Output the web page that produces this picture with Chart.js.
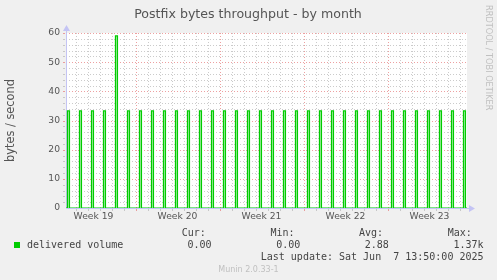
<!DOCTYPE html>
<html>
<head>
<meta charset="utf-8">
<script src="https://cdn.jsdelivr.net/npm/chart.js@4/dist/chart.umd.min.js"></script>
<style>
html, body { margin: 0; padding: 0; background: #f0f0f0; overflow: hidden; }
canvas { display: block; }
</style>
</head>
<body>
<canvas id="grafico" width="497" height="280"></canvas>
<script>
const chartTitle = "Postfix bytes throughput - by month";
const yAxisTitle = "bytes / second";
const watermark = "RRDTOOL / TOBI OETIKER";
const footer = "Munin 2.0.33-1";

// x axis in days, counted from the Monday that starts week 19
const xMin = 1.208;
const xMax = 34.625;
const weekLabels = ["Week 19", "Week 20", "Week 21", "Week 22", "Week 23"];
const weekCenters = [3.5, 10.5, 17.5, 24.5, 31.5];
const yTicks = [0, 10, 20, 30, 40, 50, 60];

// one spike a day (delivered volume, bytes/s)
const spikeDays = [1.33, 2.33, 3.33, 4.33, 5.33, 6.33, 7.33, 8.33, 9.33, 10.33,
                   11.33, 12.33, 13.33, 14.33, 15.33, 16.33, 17.33, 18.33, 19.33, 20.33,
                   21.33, 22.33, 23.33, 24.33, 25.33, 26.33, 27.33, 28.33, 29.33, 30.33,
                   31.33, 32.33, 33.33, 34.33];
const spikeValues = [33.3, 33.3, 33.3, 33.3, 59.0, 33.3, 33.3, 33.3, 33.3, 33.3,
                     33.3, 33.3, 33.3, 33.3, 33.3, 33.3, 33.3, 33.3, 33.3, 33.3,
                     33.3, 33.3, 33.3, 33.3, 33.3, 33.3, 33.3, 33.3, 33.3, 33.3,
                     33.3, 33.3, 33.3, 33.3];

const seriesName = "delivered volume";
const statHeads = ["Cur:", "Min:", "Avg:", "Max:"];
const statValues = ["0.00", "0.00", "2.88", "1.37k"];
const lastUpdate = "Last update: Sat Jun  7 13:50:00 2025";

const verde = "#00cc00";
const spikeWidth = 0.167; // dias (~2px)

// monta os pontos da área a partir dos arrays
const pontos = [{ x: xMin, y: 0 }];
spikeDays.forEach((d, i) => {
    pontos.push({ x: d, y: 0 }, { x: d, y: spikeValues[i] },
                { x: d + spikeWidth, y: spikeValues[i] }, { x: d + spikeWidth, y: 0 });
});
pontos.push({ x: xMax, y: 0 });

const px = v => Math.round(v) + 0.5;
const corMenor = "rgba(185,185,185,0.75)";
const corMaior = "rgba(230,120,120,0.7)";

const muninPlugin = {
    id: "munin",
    beforeDraw(chart) {
        const { ctx, chartArea: a } = chart;
        ctx.save();
        ctx.fillStyle = "#f0f0f0";
        ctx.fillRect(0, 0, chart.width, chart.height);
        ctx.fillStyle = "#ffffff";
        ctx.fillRect(a.left, a.top, a.right - a.left, a.bottom - a.top);
        ctx.restore();
    },
    beforeDatasetsDraw(chart) { // grade pontilhada
        const { ctx, chartArea: a, scales: { x, y } } = chart;
        ctx.save();
        ctx.lineWidth = 1;
        for (let d = Math.ceil(xMin); d <= xMax; d++) {
            const xp = px(x.getPixelForValue(d));
            ctx.strokeStyle = d % 7 === 0 ? corMaior : corMenor;
            ctx.setLineDash([1, 2]);
            ctx.beginPath(); ctx.moveTo(xp, a.top); ctx.lineTo(xp, a.bottom); ctx.stroke();
            ctx.setLineDash([]); // marca abaixo do eixo
            ctx.beginPath(); ctx.moveTo(xp, a.bottom + 1); ctx.lineTo(xp, a.bottom + 3); ctx.stroke();
        }
        for (let v = 2; v <= 60; v += 2) {
            const yp = px(y.getPixelForValue(v));
            ctx.strokeStyle = v % 10 === 0 ? corMaior : corMenor;
            ctx.setLineDash([1, 2]);
            ctx.beginPath(); ctx.moveTo(a.left, yp); ctx.lineTo(a.right, yp); ctx.stroke();
            ctx.setLineDash([]);
            ctx.beginPath(); ctx.moveTo(a.left - 3, yp); ctx.lineTo(a.left - 1, yp); ctx.stroke();
        }
        // eixos
        const ax = "#c4c4f4";
        ctx.strokeStyle = ax;
        ctx.fillStyle = ax;
        const x0 = px(a.left - 0.5), y0 = px(a.bottom - 0.5);
        ctx.beginPath(); ctx.moveTo(x0, y0); ctx.lineTo(x0, a.top - 4); ctx.stroke();
        ctx.beginPath(); ctx.moveTo(x0 - 3.5, a.top - 2); ctx.lineTo(x0, a.top - 8); ctx.lineTo(x0 + 3.5, a.top - 2); ctx.fill();
        ctx.beginPath(); ctx.moveTo(x0, y0); ctx.lineTo(a.right + 4, y0); ctx.stroke();
        ctx.beginPath(); ctx.moveTo(a.right + 2, y0 - 3.5); ctx.lineTo(a.right + 8, y0); ctx.lineTo(a.right + 2, y0 + 3.5); ctx.fill();
        ctx.restore();
    },
    afterDraw(chart) { // título, legenda e rodapé
        const ctx = chart.ctx;
        ctx.save();
        ctx.fillStyle = "#555555";
        ctx.font = "12.6px 'DejaVu Sans'";
        ctx.textAlign = "center";
        ctx.textBaseline = "alphabetic";
        ctx.fillText(chartTitle, 248, 17.5);

        ctx.save();
        ctx.translate(488, 5);
        ctx.rotate(Math.PI / 2);
        ctx.fillStyle = "#c0c0c0";
        ctx.font = "8.2px 'DejaVu Sans'";
        ctx.textAlign = "left";
        ctx.textBaseline = "middle";
        ctx.fillText(watermark, 0, 0);
        ctx.restore();

        ctx.fillStyle = verde;
        ctx.fillRect(14, 242, 6, 6);

        ctx.fillStyle = "#444444";
        ctx.font = "10px 'DejaVu Sans Mono'";
        ctx.textAlign = "left";
        ctx.textBaseline = "middle";
        ctx.fillText(seriesName, 27, 245.5);
        const colHead = [181.7, 270.4, 359, 447.7];
        statHeads.forEach((t, i) => {
            ctx.fillText(t, colHead[i], 233.5);
            ctx.fillText(statValues[i], colHead[i] + 5.8, 245.5);
        });
        ctx.textAlign = "right";
        ctx.fillText(lastUpdate, 483.5, 257.5);

        ctx.fillStyle = "#c0c0c0";
        ctx.font = "8px 'DejaVu Sans'";
        ctx.textAlign = "center";
        ctx.fillText(footer, 248.5, 269.8);
        ctx.restore();
    }
};

new Chart(document.getElementById("grafico").getContext("2d"), {
    type: "line",
    data: {
        datasets: [{
            label: seriesName,
            data: pontos,
            borderColor: verde,
            borderWidth: 1.2,
            backgroundColor: "rgba(60,215,60,0.45)",
            fill: "origin",
            pointRadius: 0,
            tension: 0
        }]
    },
    options: {
        responsive: false,
        animation: false,
        devicePixelRatio: 1,
        layout: { padding: { top: 33, right: 30, bottom: 52, left: 0 } },
        plugins: { legend: { display: false }, title: { display: false }, tooltip: { enabled: false } },
        scales: {
            x: {
                type: "linear",
                min: xMin,
                max: xMax,
                afterBuildTicks: s => { s.ticks = weekCenters.map(v => ({ value: v })); },
                afterFit: s => { s.height = 20; },
                grid: { display: false, drawTicks: false },
                border: { display: false },
                ticks: {
                    autoSkip: false,
                    maxRotation: 0,
                    padding: 3,
                    color: "#555555",
                    font: { family: "'DejaVu Sans'", size: 9.2 },
                    callback: (v, i) => weekLabels[i]
                }
            },
            y: {
                min: 0,
                max: 60,
                afterBuildTicks: s => { s.ticks = yTicks.map(v => ({ value: v })); },
                afterFit: s => { s.width = 66; },
                grid: { display: false, drawTicks: false },
                border: { display: false },
                title: {
                    display: true,
                    text: yAxisTitle,
                    color: "#555555",
                    font: { family: "'DejaVu Sans'", size: 11.4 },
                    padding: { top: 4, bottom: 0 }
                },
                ticks: {
                    padding: 6,
                    color: "#555555",
                    font: { family: "'DejaVu Sans'", size: 9.2 }
                }
            }
        }
    },
    plugins: [muninPlugin]
});
</script>
</body>
</html>
